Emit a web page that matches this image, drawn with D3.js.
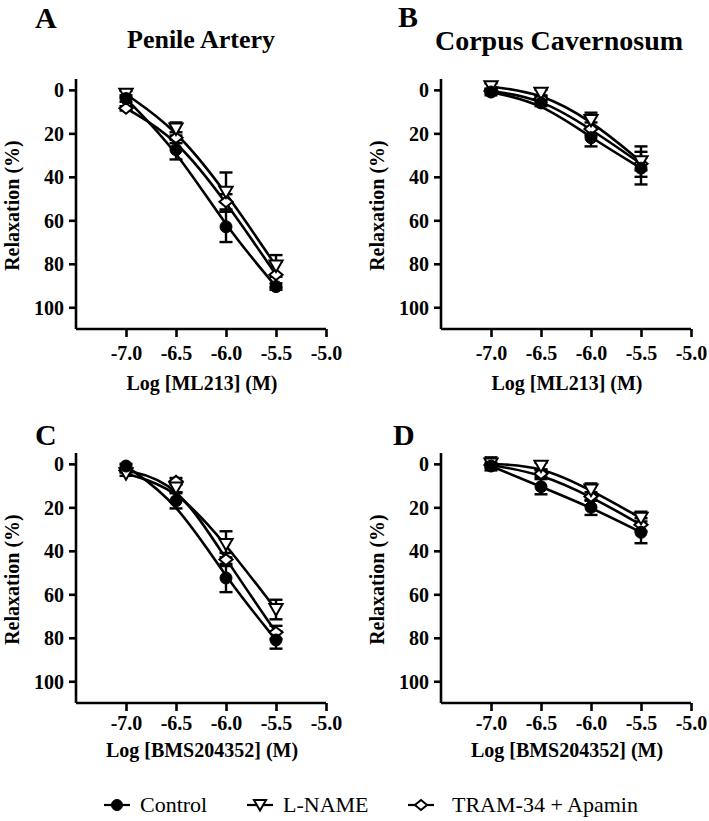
<!DOCTYPE html>
<html><head><meta charset="utf-8">
<script src="https://cdn.jsdelivr.net/npm/d3@7"></script>
<style>body{margin:0;background:#fff}</style>
</head><body><svg id="c" width="709" height="821"></svg>
<script>
// ---------- data ----------
const concentrations = [-7.0, -6.5, -6.0, -5.5];
const xTicks = [-7.0, -6.5, -6.0, -5.5, -5.0];
const yTicks = [0, 20, 40, 60, 80, 100];
const seriesNames = ["Control", "L-NAME", "TRAM-34 + Apamin"];
const panelLetters = ["A", "B", "C", "D"];
const panelTitles = ["Penile Artery", "Corpus Cavernosum", "", ""];
const xAxisLabels = ["Log [ML213] (M)", "Log [ML213] (M)", "Log [BMS204352] (M)", "Log [BMS204352] (M)"];
const yAxisLabel = "Relaxation (%)";

// Panel A: ML213, penile artery
const aControl = [4, 27.5, 63, 90.5];
const aControlSem = [1.5, 4.5, 7, 1.5];
const aLname = [2, 18, 47, 81];
const aLnameSem = [1.5, 3, 9, 5];
const aTram = [8.5, 22, 51.5, 85];
const aTramSem = [1, 2.5, 3.5, 6];
// Panel B: ML213, corpus cavernosum
const bControl = [1, 6, 22, 36];
const bControlSem = [1.5, 1.5, 4, 7.5];
const bLname = [-1.5, 1.5, 14, 33];
const bLnameSem = [1.5, 1.5, 3.5, 7];
const bTram = [0.5, 4, 18, 34];
const bTramSem = [1, 1.5, 3, 3];
// Panel C: BMS204352, penile artery
const cControl = [1, 17, 52.5, 81];
const cControlSem = [1, 3.5, 6.5, 4];
const cLname = [4.5, 11, 37, 67];
const cLnameSem = [1, 2, 6, 4.5];
const cTram = [3, 8, 44, 77.5];
const cTramSem = [1, 1.5, 3, 3];
// Panel D: BMS204352, corpus cavernosum
const dControl = [1, 10.5, 20, 31.5];
const dControlSem = [1, 3.5, 3.5, 5];
const dLname = [0, 1, 12, 25];
const dLnameSem = [3, 1.5, 3, 3];
const dTram = [0.5, 4.5, 15, 28];
const dTramSem = [1, 1.5, 2, 3];

const panelData = [
  [[aControl, aControlSem], [aLname, aLnameSem], [aTram, aTramSem]],
  [[bControl, bControlSem], [bLname, bLnameSem], [bTram, bTramSem]],
  [[cControl, cControlSem], [cLname, cLnameSem], [cTram, cTramSem]],
  [[dControl, dControlSem], [dLname, dLnameSem], [dTram, dTramSem]]
];

// ---------- layout ----------
const geom = [
  {x0: 76,  top: 79,  bottom: 329, tickBase: 360, labBase: 390, letterX: 35,  letterY: 28,  titleX: 201, titleY: 48,  titleSize: 26},
  {x0: 441, top: 79,  bottom: 329, tickBase: 360, labBase: 390, letterX: 398, letterY: 27,  titleX: 559, titleY: 50,  titleSize: 28},
  {x0: 76,  top: 453, bottom: 703, tickBase: 730, labBase: 757, letterX: 35,  letterY: 445},
  {x0: 441, top: 453, bottom: 703, tickBase: 730, labBase: 757, letterX: 393, letterY: 445}
];
const FONT = "'Liberation Serif','Times New Roman',Times,serif";
const svg = d3.select("#c");

const markerFns = [
  (g, sz) => g.append("circle").attr("r", sz * 0.5).attr("fill", "#000").attr("stroke", "#000").attr("stroke-width", 1),
  (g, sz) => g.append("path").attr("d", `M${-sz*0.55},${-sz*0.45}L${sz*0.55},${-sz*0.45}L0,${sz*0.5}Z`)
      .attr("fill", "#fff").attr("stroke", "#000").attr("stroke-width", 2).attr("stroke-linejoin", "miter"),
  (g, sz) => g.append("path").attr("d", `M0,${-sz*0.45}L${sz*0.55},0L0,${sz*0.45}L${-sz*0.55},0Z`)
      .attr("fill", "#fff").attr("stroke", "#000").attr("stroke-width", 2)
];

geom.forEach((G, pi) => {
  const x = d3.scaleLinear().domain([-7.5, -5.0]).range([G.x0, G.x0 + 250]);
  const y = d3.scaleLinear().domain([-5, 110]).range([G.top, G.bottom]);
  const g = svg.append("g");

  // axes
  const xAxis = d3.axisBottom(x).tickValues(xTicks).tickSize(8).tickFormat(d => d.toFixed(1));
  const gx = g.append("g").attr("transform", `translate(0,${G.bottom})`).call(xAxis);
  const yAxis = d3.axisLeft(y).tickValues(yTicks).tickSize(7).tickFormat(d => String(d));
  const gy = g.append("g").attr("transform", `translate(${G.x0},0)`).call(yAxis);
  [gx, gy].forEach(a => {
    a.select(".domain").attr("stroke", "#000").attr("stroke-width", 2.6)
      .attr("d", a === gx ? `M${G.x0},0H${G.x0 + 250}` : `M0,${G.top}V${G.bottom}`);
    a.selectAll(".tick line").attr("stroke", "#000").attr("stroke-width", 2.6);
    a.selectAll(".tick text").attr("fill", "#000").style("font-family", FONT)
      .style("font-weight", "bold").style("font-size", "20px");
  });
  gx.selectAll(".tick text").attr("y", null).attr("dy", null)
    .attr("transform", `translate(0,${G.tickBase - G.bottom})`);
  gy.selectAll(".tick text").attr("x", -12).attr("dy", "0.34em");

  // axis labels
  g.append("text").attr("x", G.x0 + 126).attr("y", G.labBase).attr("text-anchor", "middle")
    .style("font-family", FONT).style("font-weight", "bold").style("font-size", "20px").text(xAxisLabels[pi]);
  const yMid = (y(0) + y(100)) / 2 + 7;
  g.append("text").attr("transform", `translate(${G.x0 - 57},${yMid}) rotate(-90)`).attr("text-anchor", "middle")
    .style("font-family", FONT).style("font-weight", "bold").style("font-size", "20px").text(yAxisLabel);

  // letter and title
  g.append("text").attr("x", G.letterX).attr("y", G.letterY)
    .style("font-family", FONT).style("font-weight", "bold").style("font-size", "30px").text(panelLetters[pi]);
  if (panelTitles[pi]) {
    g.append("text").attr("x", G.titleX).attr("y", G.titleY).attr("text-anchor", "middle")
      .style("font-family", FONT).style("font-weight", "bold").style("font-size", G.titleSize + "px").text(panelTitles[pi]);
  }

  const data = panelData[pi];
  // error bars
  data.forEach(([vals, sems]) => {
    vals.forEach((v, i) => {
      const cx = x(concentrations[i]);
      const eb = g.append("g").attr("stroke", "#000").attr("stroke-width", 2.4);
      eb.append("line").attr("x1", cx).attr("x2", cx).attr("y1", y(v - sems[i])).attr("y2", y(v + sems[i]));
      [v - sems[i], v + sems[i]].forEach(e =>
        eb.append("line").attr("x1", cx - 6.5).attr("x2", cx + 6.5).attr("y1", y(e)).attr("y2", y(e)));
    });
  });
  // curves
  const line = d3.line().x((d, i) => x(concentrations[i])).y(d => y(d)).curve(d3.curveBasis);
  data.forEach(([vals]) => {
    g.append("path").attr("d", line(vals)).attr("fill", "none").attr("stroke", "#000").attr("stroke-width", 2.6);
  });
  // markers (TRAM first, control on top)
  [2, 1, 0].forEach(si => {
    const [vals] = data[si];
    vals.forEach((v, i) => {
      const mg = g.append("g").attr("transform", `translate(${x(concentrations[i])},${y(v)})`);
      markerFns[si](mg, 12);
    });
  });
});

// ---------- legend ----------
const legendItems = [
  {cx: 117, tx: 140},
  {cx: 260, tx: 283},
  {cx: 421, tx: 452}
];
const lg = svg.append("g");
seriesNames.forEach((name, si) => {
  const L = legendItems[si];
  lg.append("line").attr("x1", L.cx - 13).attr("x2", L.cx + 13).attr("y1", 805).attr("y2", 805)
    .attr("stroke", "#000").attr("stroke-width", 2.2);
  const mg = lg.append("g").attr("transform", `translate(${L.cx},805)`);
  markerFns[si](mg, 11);
  lg.append("text").attr("x", L.tx).attr("y", 812).style("font-family", FONT).style("font-size", "22px").text(name);
});
</script>
</body></html>
